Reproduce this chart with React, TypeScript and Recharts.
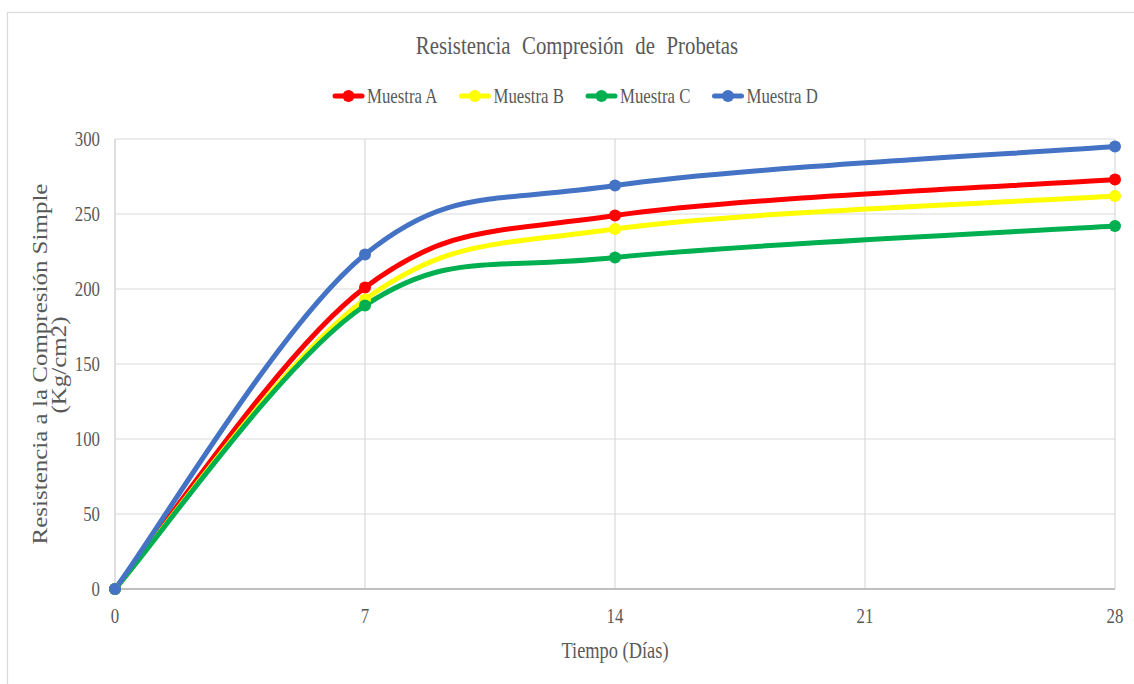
import React from 'react';
import { LineChart, Line, XAxis, YAxis, CartesianGrid, Legend } from 'recharts';

const days = [0, 7, 14, 28];
const muestraA = [0, 201, 249, 273];
const muestraB = [0, 193, 240, 262];
const muestraC = [0, 189, 221, 242];
const muestraD = [0, 223, 269, 295];
const xTicks = [0, 7, 14, 21, 28];
const yTicks = [0, 50, 100, 150, 200, 250, 300];

const seriesNames = ['Muestra A', 'Muestra B', 'Muestra C', 'Muestra D'];
const seriesKeys = ['A', 'B', 'C', 'D'];
const seriesColors = ['#FF0000', '#FFFF00', '#00B050', '#4472C4'];

const data = days.map((d, i) => ({
  day: d,
  A: muestraA[i],
  B: muestraB[i],
  C: muestraC[i],
  D: muestraD[i],
}));

const FONT = '"Liberation Serif", "Times New Roman", serif';
const TEXT = '#595959';
const SQ = 0.8;

// Excel-like smoothing (uniform Catmull-Rom as cubic Bezier)
const excelCurve = (context: any) => {
  let xs: number[] = [];
  let ys: number[] = [];
  return {
    areaStart() {},
    areaEnd() {},
    lineStart() {
      xs = [];
      ys = [];
    },
    point(x: number, y: number) {
      xs.push(+x);
      ys.push(+y);
    },
    lineEnd() {
      const n = xs.length;
      if (!n) return;
      context.moveTo(xs[0], ys[0]);
      if (n === 1) return;
      for (let i = 0; i < n - 1; i++) {
        const p0 = i > 0 ? i - 1 : i;
        const p3 = i + 2 < n ? i + 2 : i + 1;
        const c1x = xs[i] + (xs[i + 1] - xs[p0]) / 6;
        const c1y = ys[i] + (ys[i + 1] - ys[p0]) / 6;
        const c2x = xs[i + 1] - (xs[p3] - xs[i]) / 6;
        const c2y = ys[i + 1] - (ys[p3] - ys[i]) / 6;
        context.bezierCurveTo(c1x, c1y, c2x, c2y, xs[i + 1], ys[i + 1]);
      }
    },
  };
};

const XTick = (props: any) => {
  const { x, y, payload } = props;
  return (
    <g transform={`translate(${x},${y}) scale(${SQ},1)`}>
      <text x={0} y={34} textAnchor="middle" fontFamily={FONT} fontSize={21} fill={TEXT}>
        {payload.value}
      </text>
    </g>
  );
};

const YTick = (props: any) => {
  const { x, y, payload } = props;
  return (
    <g transform={`translate(${x},${y}) scale(${SQ},1)`}>
      <text x={0} y={7} textAnchor="end" fontFamily={FONT} fontSize={21} fill={TEXT}>
        {payload.value}
      </text>
    </g>
  );
};

const YLabel = () => (
  <g>
    <g transform={`translate(47,364) scale(${SQ},1) rotate(-90)`}>
      <text x={0} y={0} textAnchor="middle" fontFamily={FONT} fontSize={25} fill={TEXT}>
        Resistencia a la Compresión Simple
      </text>
    </g>
    <g transform={`translate(66,365) scale(${SQ},1) rotate(-90)`}>
      <text x={0} y={0} textAnchor="middle" fontFamily={FONT} fontSize={25} fill={TEXT}>
        (Kg/cm2)
      </text>
    </g>
  </g>
);

const XLabel = () => (
  <g transform={`translate(615,658) scale(${SQ},1)`}>
    <text x={0} y={0} textAnchor="middle" fontFamily={FONT} fontSize={23} fill={TEXT}>
      Tiempo (Días)
    </text>
  </g>
);

const LegendContent = () => (
  <svg width={1134} height={30} style={{ display: 'block' }}>
    {seriesNames.map((name, i) => {
      const x0 = 333 + i * 126.5;
      return (
        <g key={name}>
          <line x1={x0 + 2} y1={15} x2={x0 + 29} y2={15} stroke={seriesColors[i]} strokeWidth={5} strokeLinecap="round" />
          <circle cx={x0 + 15.5} cy={15} r={6} fill={seriesColors[i]} />
          <g transform={`translate(${x0 + 34},22) scale(${SQ},1)`}>
            <text x={0} y={0} fontFamily={FONT} fontSize={21} fill={TEXT}>
              {name}
            </text>
          </g>
        </g>
      );
    })}
  </svg>
);

export default function App() {
  return (
    <div
      style={{
        position: 'absolute',
        left: 0,
        top: 0,
        width: 1134,
        height: 684,
        overflow: 'hidden',
        background: '#ffffff',
      }}
    >
      <LineChart
        width={1134}
        height={684}
        data={data}
        margin={{ top: 139, right: 19, bottom: 0, left: 0 }}
      >
        <CartesianGrid stroke="#d9d9d9" strokeWidth={1.2} />
        <XAxis
          dataKey="day"
          type="number"
          domain={[0, 28]}
          ticks={xTicks}
          interval={0}
          height={95}
          axisLine={{ stroke: '#bfbfbf', strokeWidth: 1.8 }}
          tickLine={false}
          tickSize={0}
          tickMargin={0}
          tick={<XTick />}
          label={{ content: () => <XLabel /> }}
        />
        <YAxis
          type="number"
          domain={[0, 300]}
          ticks={yTicks}
          interval={0}
          width={115}
          axisLine={{ stroke: '#d9d9d9', strokeWidth: 1.2 }}
          tickLine={false}
          tickSize={0}
          tickMargin={15}
          tick={<YTick />}
          label={{ content: () => <YLabel /> }}
        />
        <Legend
          verticalAlign="middle"
          align="center"
          layout="horizontal"
          wrapperStyle={{ top: 81, left: 0, width: 1134, height: 30 }}
          content={() => <LegendContent />}
        />
        {seriesKeys.map((k, i) => (
          <Line
            key={k}
            dataKey={k}
            name={seriesNames[i]}
            type={excelCurve as any}
            stroke={seriesColors[i]}
            strokeWidth={5}
            dot={{ r: 6, fill: seriesColors[i], stroke: seriesColors[i], strokeWidth: 0 }}
            activeDot={false}
            isAnimationActive={false}
          />
        ))}
      </LineChart>
      <svg
        width={1134}
        height={684}
        style={{ position: 'absolute', left: 0, top: 0, pointerEvents: 'none' }}
      >
        <rect x={7.5} y={12.5} width={1140} height={700} fill="none" stroke="#d9d9d9" strokeWidth={1.2} />
        <g transform={`translate(577,54) scale(${SQ},1)`}>
          <text x={0} y={0} textAnchor="middle" fontFamily={FONT} fontSize={26} fill={TEXT} style={{ wordSpacing: 8 }}>
            Resistencia Compresión de Probetas
          </text>
        </g>
      </svg>
    </div>
  );
}
